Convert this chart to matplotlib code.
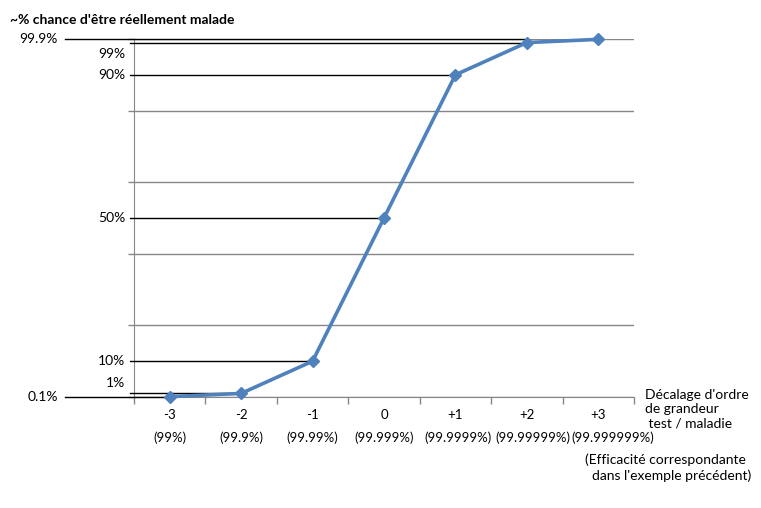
import matplotlib.pyplot as plt

plt.rcParams['font.family'] = ['Lato', 'DejaVu Sans']

# données
decalage = ['-3', '-2', '-1', '0', '+1', '+2', '+3']
efficacite = ['(99%)', '(99.9%)', '(99.99%)', '(99.999%)', '(99.9999%)',
              '(99.99999%)', '(99.999999%)']
chance = [0.1, 1, 10, 50, 90, 99, 99.9]
y_labels = ['0.1%', '1%', '10%', '50%', '90%', '99%', '99.9%']
# point où s'arrête chaque ligne de repère
fin_repere = [0, 1, 2, 3, 4, 5, 5]

W, H = 761, 508
fig = plt.figure(figsize=(W / 100, H / 100), dpi=100)
x0, x1, y0, y1 = 134, 634, 397, 39
ax = fig.add_axes([x0 / W, 1 - y0 / H, (x1 - x0) / W, (y0 - y1) / H])

grid_col = '#868686'
ax.set_ylim(0, 100)
ax.set_xlim(-0.5, len(decalage) - 0.5)
ax.set_yticks([0, 20, 40, 60, 80, 100])
ax.set_yticklabels([])
ax.yaxis.grid(True, color=grid_col, linewidth=1)
ax.set_axisbelow(True)
ax.tick_params(axis='y', length=4, color=grid_col, width=1)
ax.set_xticks([i - 0.5 for i in range(len(decalage) + 1)])
ax.set_xticklabels([])
ax.tick_params(axis='x', length=5, color=grid_col, width=1)
for s in ['top', 'right']:
    ax.spines[s].set_visible(False)
for s in ['left', 'bottom']:
    ax.spines[s].set_color(grid_col)

xs = list(range(len(decalage)))
ax.plot(xs, chance, color='#4F81BD', linewidth=2.6, marker='D',
        markersize=6.5, zorder=5, clip_on=False)

# lignes de repère et étiquettes
tr = ax.get_yaxis_transform()
n = len(decalage)
for v, lab, i in zip(chance, y_labels, fin_repere):
    end = (i + 0.5) / n
    if lab in ('99.9%', '0.1%'):
        start = -0.138
        tx = -0.152
    else:
        start = -0.008
        tx = -0.018
    ax.plot([start, end], [v, v], color='black', linewidth=1,
            transform=tr, clip_on=False, zorder=3)
    dy = 0
    if lab == '99%':
        dy = -3.2
    elif lab == '1%':
        dy = 2.8
    ax.text(tx, v + dy, lab, transform=tr, ha='right', va='center', fontsize=10)

# décalage horizontal des étiquettes longues (comme dans l'original)
shift = [0, 0, 0, 0, 0.04, 0.08, 0.2]
for i, (d, e) in enumerate(zip(decalage, efficacite)):
    ax.text(i, -5, d, ha='center', va='center', fontsize=9.5, clip_on=False)
    ax.text(i + shift[i], -11.5, e, ha='center', va='center', fontsize=9.5,
            clip_on=False)

fig.text(10 / W, 1 - 20 / H, "~% chance d'être réellement malade",
         fontsize=10, fontweight='bold', va='center', ha='left')
fig.text(645 / W, 1 - 409 / H, "Décalage d'ordre\nde grandeur\n test / maladie",
         fontsize=10, va='center', ha='left', linespacing=1.2)
fig.text(585 / W, 1 - 468 / H,
         "(Efficacité correspondante\n  dans l'exemple précédent)",
         fontsize=10, va='center', ha='left', linespacing=1.3)

fig.savefig('out.png', dpi=100)
